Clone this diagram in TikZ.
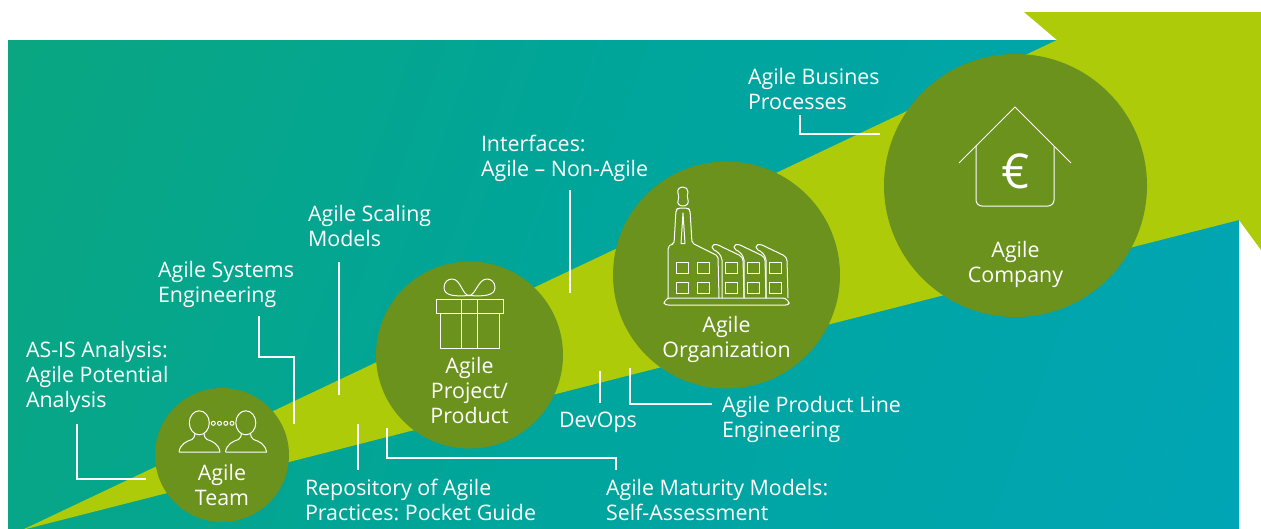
\documentclass[tikz,border=0pt]{standalone}
\usepackage{fontspec}
\setmainfont{Open Sans}
\frenchspacing
\definecolor{arrowgreen}{HTML}{AECB0A}
\definecolor{circlegreen}{HTML}{6B921C}
\definecolor{bgblue}{HTML}{00A5BA}
\definecolor{bgteal}{HTML}{00A59A}
\definecolor{bgmid}{HTML}{0EA777}
\definecolor{bggreen}{HTML}{22A855}
\pgfdeclarehorizontalshading{bggrad}{100bp}{color(0bp)=(bggreen);color(13bp)=(bggreen);color(25bp)=(bgmid);color(48bp)=(bgteal);color(72bp)=(bgblue);color(100bp)=(bgblue)}
\tikzset{
 lbl/.style={text=white,inner sep=0pt,outer sep=0pt,font=\fontsize{21.4}{25}\selectfont,align=left,anchor=base west},
 clbl/.style={text=white,inner sep=0pt,outer sep=0pt,font=\fontsize{21.4}{25}\selectfont,align=center,anchor=base},
 blob/.style={circle,fill=circlegreen,inner sep=0pt,outer sep=0pt,draw=none},
 conn/.style={draw=white,line width=1.7pt},
 icon/.style={draw=white,line width=1pt,line join=round,fill=none},
}
\begin{document}
\begin{tikzpicture}[x=1pt,y=-1pt]
\useasboundingbox (0,0) rectangle (1261,528);
% background
\begin{scope}
\clip (8,40) rectangle (1239,528);
\path[shading=bggrad,shading angle=-20] (-277,-616) rectangle (1523,1184);
\end{scope}
% arrow
\begin{scope}
\clip (0,0) rectangle (1261,528);
\fill[arrowgreen] (22,530) -- (1057,40) -- (1024,12) -- (1261,12) -- (1261,250) -- (1239,220) -- cycle;
\end{scope}
% circles
\node[blob,minimum size=134pt] (team) at (222,455) {};
\node[blob,minimum size=187pt] (project) at (469.5,355) {};
\node[blob,minimum size=227pt] (org) at (726.5,275) {};
\node[blob,minimum size=263pt] (company) at (1015.5,185.5) {};
% circle labels (y = baseline of the last line)
\node[clbl] (teamt) at (222,505) {Agile\\Team};
\node[clbl] (projt) at (469.5,423) {Agile\\Project/\\Product};
\node[clbl] (orgt) at (726.5,357) {Agile\\Organization};
\node[clbl] (compt) at (1015.5,282) {Agile\\Company};
% labels
\node[lbl] (asis) at (26,407) {AS-IS Analysis:\\Agile Potential\\Analysis};
\node[lbl] (sys) at (158,302) {Agile Systems\\Engineering};
\node[lbl] (scal) at (308,246) {Agile Scaling\\Models};
\node[lbl] (iface) at (481,176) {Interfaces:\\Agile – Non-Agile};
\node[lbl] (bus) at (748,109) {Agile Busines\\Processes};
\node[lbl] (repo) at (305,520) {Repository of Agile\\Practices: Pocket Guide};
\node[lbl] (mat) at (606,520) {Agile Maturity Models:\\Self-Assessment};
\node[lbl] (dev) at (559,427) {DevOps};
\node[lbl] (pl) at (722,437) {Agile Product Line\\Engineering};
% connectors
\coordinate (c1a) at (77,424); \coordinate (c1b) at (146,479);
\draw[conn] (c1a) |- (c1b);
\coordinate (c2a) at (259,316); \coordinate (c2b) at (294,357); \coordinate (c2c) at (294,424);
\draw[conn] (c2a) |- (c2b) -- (c2c);
\coordinate (c3a) at (339,262); \coordinate (c3b) at (339,395);
\draw[conn] (c3a) -- (c3b);
\coordinate (c4a) at (358,424); \coordinate (c4b) at (358,470);
\draw[conn] (c4a) -- (c4b);
\coordinate (c5a) at (387,428); \coordinate (c5b) at (616,458); \coordinate (c5c) at (616,470);
\draw[conn] (c5a) |- (c5b) -- (c5c);
\coordinate (c6a) at (570,190); \coordinate (c6b) at (570,293);
\draw[conn] (c6a) -- (c6b);
\coordinate (c7a) at (600,371); \coordinate (c7b) at (600,403);
\draw[conn] (c7a) -- (c7b);
\coordinate (c8a) at (630,368); \coordinate (c8b) at (712,404);
\draw[conn] (c8a) |- (c8b);
\coordinate (c9a) at (800,115); \coordinate (c9b) at (880,134);
\draw[conn] (c9a) |- (c9b);
% team icon
\foreach \dx in {0,46.5}{
\begin{scope}[xshift=\dx pt]
\draw[icon] (199.3,422.8) ellipse (10 and 12);
\draw[icon] (179,452) -- (220,452) .. controls (219,444) and (212,441) .. (207,439.5) .. controls (205,438) and (204,436) .. (204,433.5);
\draw[icon] (179,452) .. controls (180,444) and (187,441) .. (192,439.5) .. controls (194,438) and (195,436) .. (195,433.5);
\end{scope}}
\foreach \x in {213.3,219.5,225.8,232}{\draw[icon] (\x,423.3) circle (2);}
% gift icon
\draw[icon] (436,299.5) rectangle (503,313);
\draw[icon] (440,313) -- (440,348) -- (499,348) -- (499,313);
\draw[icon] (461,299.5) -- (461,348) (477,299.5) -- (477,348);
\draw[icon] (469,295.5) .. controls (455,296.5) and (444,296) .. (444,287.5) .. controls (444,282) and (448,279) .. (452,279) .. controls (461,279) and (462,295) .. (469,295.5) .. controls (476,295) and (478,279) .. (487,279) .. controls (491,279) and (495,282) .. (495,287.5) .. controls (495,296) and (483,296.5) .. (469,295.5);
% factory icon
\begin{scope}
\draw[icon,rounded corners=2pt] (668,298) -- (668,247) -- (671,244) -- (674,244) -- (676,210) -- (678,208) -- (688,208) -- (690,210) -- (692,243) -- (718,256) -- (719,298);
\draw[icon] (681,243.5) -- (683,213) -- (685,243.5) -- cycle;
\draw[icon] (683,187) .. controls (679,187) and (677,190) .. (678,193) .. controls (679,196) and (679,198) .. (678,201) .. controls (677,204) and (680,206) .. (683,206) .. controls (687,206) and (689,203) .. (688,200) .. controls (687,197) and (687,195) .. (688,192) .. controls (688,189) and (686,187) .. (683,187) -- cycle;
\draw[icon,rounded corners=1.5pt] (664,302) -- (667,299) -- (668,298) -- (784,298) -- (786,299) -- (789,302) -- (789,304) -- (787,305) -- (667,305) -- (664,304) -- cycle;
\foreach \dx in {0,22,44}{
\draw[icon,rounded corners=2pt] (\dx+722,298) -- (\dx+722,258) -- (\dx+718,252) -- (\dx+712,249) -- (\dx+712,245) -- (\dx+716,244) -- (\dx+741,256) -- (\dx+743,259) -- (\dx+744,298);
}
\foreach \x in {676,697,725,747,769}{\foreach \y in {262,282}{\draw[icon] (\x,\y) rectangle ++(12.5,11);}}
\end{scope}
% house icon
\draw[icon] (959,163) -- (1015,107) -- (1071,163);
\draw[icon,rounded corners=6pt] (976,146) -- (976,206) -- (1054,206) -- (1054,146);
\node[text=white,inner sep=0pt,font=\fontsize{48}{48}\selectfont] (euro) at (1015.5,171) {€};
\end{tikzpicture}
\end{document}
